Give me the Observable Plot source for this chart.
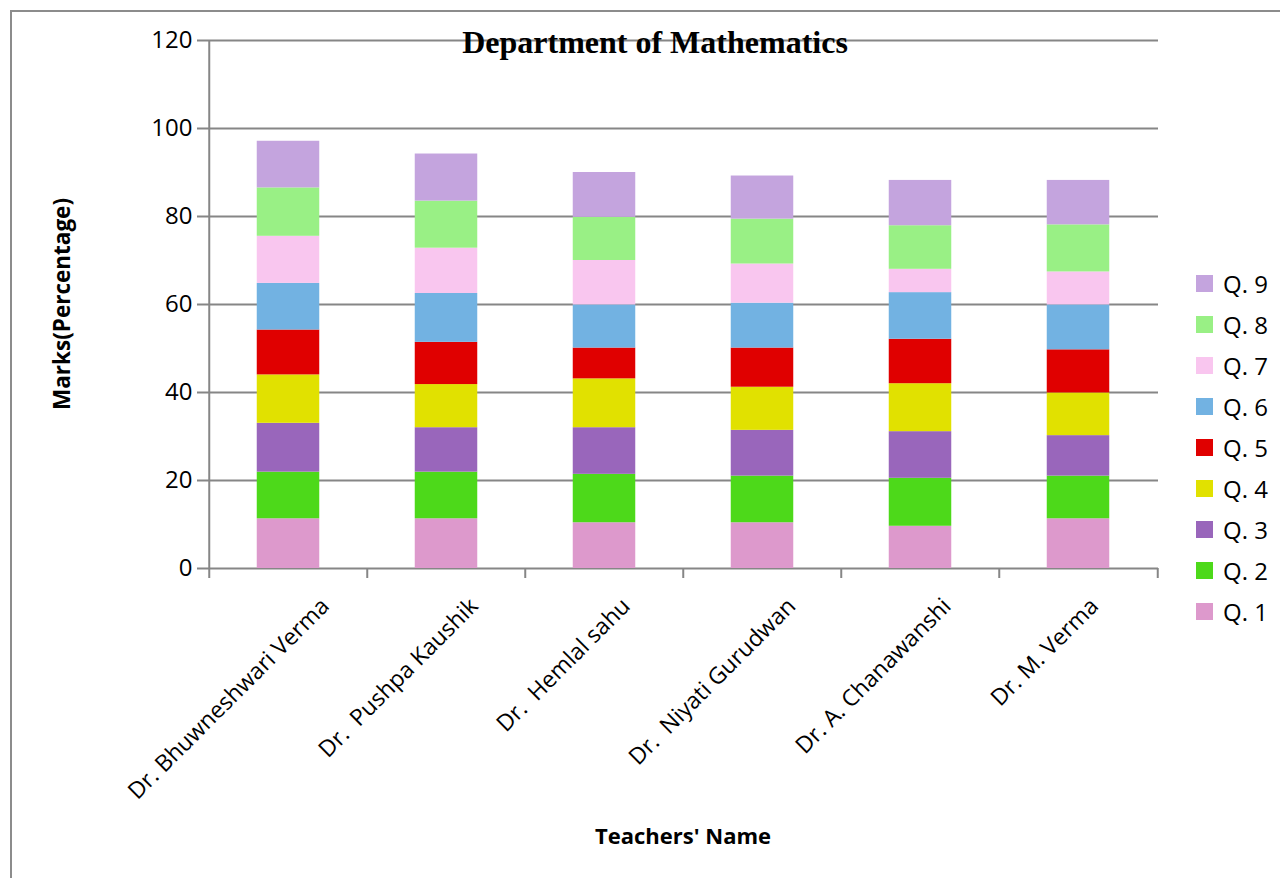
<!DOCTYPE html>
<html>
<head>
<meta charset="utf-8">
<script src="https://cdn.jsdelivr.net/npm/d3@7"></script>
<script src="https://cdn.jsdelivr.net/npm/@observablehq/plot@0.6"></script>
<style>
  html, body { margin: 0; padding: 0; background: #fff; overflow: hidden; }
  #wrap { position: relative; width: 1280px; height: 878px; overflow: hidden; font-family: "Open Sans", sans-serif; }
  #frame { position: absolute; left: 10px; top: 10px; width: 1400px; height: 1000px; border: 2px solid #8c8c8c; box-sizing: border-box; }
  #chart { position: absolute; left: 0; top: 0; }
  .title { position: absolute; left: 0; width: 1310px; top: 22px; text-align: center; font-family: "Liberation Serif", "Times New Roman", serif; font-weight: bold; font-size: 32px; color: #000; line-height: 40px; }
  .ylab { position: absolute; left: 61px; top: 304px; transform: translate(-50%, -50%) rotate(-90deg); font-weight: bold; font-size: 22.5px; white-space: nowrap; }
  .xlab { position: absolute; left: 683px; top: 835px; transform: translate(-50%, -50%); font-weight: bold; font-size: 22px; white-space: nowrap; }
  .legend { position: absolute; left: 1196px; top: 0; }
  .legend .row { position: absolute; left: 0; display: flex; align-items: center; white-space: nowrap; font-size: 24px; height: 34px; }
  .legend .sw { width: 17px; height: 17px; margin-right: 10px; }
</style>
</head>
<body>
<div id="wrap">
  <div id="frame"></div>
  <div id="chart"></div>
  <div class="title">Department of Mathematics</div>
  <div class="ylab">Marks(Percentage)</div>
  <div class="xlab">Teachers' Name</div>
  <div class="legend" id="legend"></div>
</div>
<script>
// ---- Data ----
const teachers = [
  "Dr. Bhuwneshwari Verma",
  "Dr.\u00a0 Pushpa Kaushik",
  "Dr.\u00a0 Hemlal sahu",
  "Dr.\u00a0 Niyati Gurudwan",
  "Dr. A. Chanawanshi",
  "Dr. M. Verma"
];
const questions = ["Q. 1", "Q. 2", "Q. 3", "Q. 4", "Q. 5", "Q. 6", "Q. 7", "Q. 8", "Q. 9"];
const q1 = [11.3, 11.3, 10.4, 10.4, 9.6, 11.3];
const q2 = [10.6, 10.6, 11.0, 10.6, 10.9, 9.7];
const q3 = [11.1, 10.1, 10.6, 10.4, 10.6, 9.2];
const q4 = [11.0, 9.8, 11.1, 9.8, 10.9, 9.7];
const q5 = [10.2, 9.6, 7.0, 8.9, 10.1, 9.8];
const q6 = [10.6, 11.1, 9.8, 10.2, 10.6, 10.2];
const q7 = [10.7, 10.3, 10.1, 8.9, 5.3, 7.5];
const q8 = [11.0, 10.7, 9.8, 10.2, 9.9, 10.7];
const q9 = [10.6, 10.7, 10.2, 9.8, 10.3, 10.1];
const yTicks = [0, 20, 40, 60, 80, 100, 120];
const colors = ["#dd99cc", "#4dd91a", "#9966bb", "#e1e100", "#e00000", "#72b2e2", "#f9c6ef", "#99f085", "#c4a4de"];

const series = [q1, q2, q3, q4, q5, q6, q7, q8, q9];
const rows = [];
questions.forEach((q, qi) => {
  teachers.forEach((t, ti) => rows.push({ teacher: t, q, value: series[qi][ti] }));
});

// ---- Layout ----
const W = 1280, H = 878;
const mL = 207, mR = 122, mT = 40, mB = 310;
const band = (W - mL - mR) / teachers.length;
const barW = 63;
const gridColor = "#868686";

const chart = Plot.plot({
  width: W,
  height: H,
  marginLeft: mL,
  marginRight: mR,
  marginTop: mT,
  marginBottom: mB,
  style: { fontFamily: "'Open Sans', sans-serif", background: "transparent" },
  x: { domain: teachers, padding: 0, axis: null },
  y: { domain: [0, 120], axis: null },
  color: { domain: questions, range: colors },
  marks: [
    Plot.ruleY(yTicks, { y: d => d, stroke: gridColor, strokeWidth: 2, insetLeft: -10 }),
    Plot.ruleX([0], { x: () => teachers[0], dx: -band / 2, y1: 0, y2: 120, stroke: gridColor, strokeWidth: 2 }),
    Plot.ruleX(teachers, { x: d => d, dx: -band / 2, y1: 0, y2: 0, insetBottom: -10, stroke: gridColor, strokeWidth: 2 }),
    Plot.ruleX([teachers[teachers.length - 1]], { x: d => d, dx: band / 2, y1: 0, y2: 0, insetBottom: -10, stroke: gridColor, strokeWidth: 2 }),
    Plot.barY(rows, Plot.stackY({ x: "teacher", y: "value", z: "q", fill: "q", insetLeft: (band - barW) / 2, insetRight: (band - barW) / 2 })),
    Plot.axisY({ ticks: yTicks, tickSize: 0, tickPadding: 15, fontSize: 24, label: null, fill: "#000" }),
    Plot.axisX({ tickSize: 0, tickRotate: -45, fontSize: 23, label: null, textAnchor: "end", dx: -6, dy: 22, fill: "#000" })
  ]
});
document.getElementById("chart").appendChild(chart);

// Shift longer rotated labels to the right, as the reference does
chart.querySelectorAll('g[aria-label="x-axis tick label"] text').forEach(t => {
  const len = t.getComputedTextLength();
  const prev = t.getAttribute("transform") || "";
  t.setAttribute("transform", `translate(${0.157 * len},0) ${prev}`);
});

// ---- Legend (top item = Q. 9) ----
const legend = document.getElementById("legend");
[...questions].reverse().forEach((q, i) => {
  const row = document.createElement("div");
  row.className = "row";
  row.style.top = (283.5 + 41 * i - 17) + "px";
  const sw = document.createElement("div");
  sw.className = "sw";
  sw.style.background = colors[questions.indexOf(q)];
  const lab = document.createElement("span");
  lab.textContent = q;
  row.appendChild(sw);
  row.appendChild(lab);
  legend.appendChild(row);
});
</script>
</body>
</html>
